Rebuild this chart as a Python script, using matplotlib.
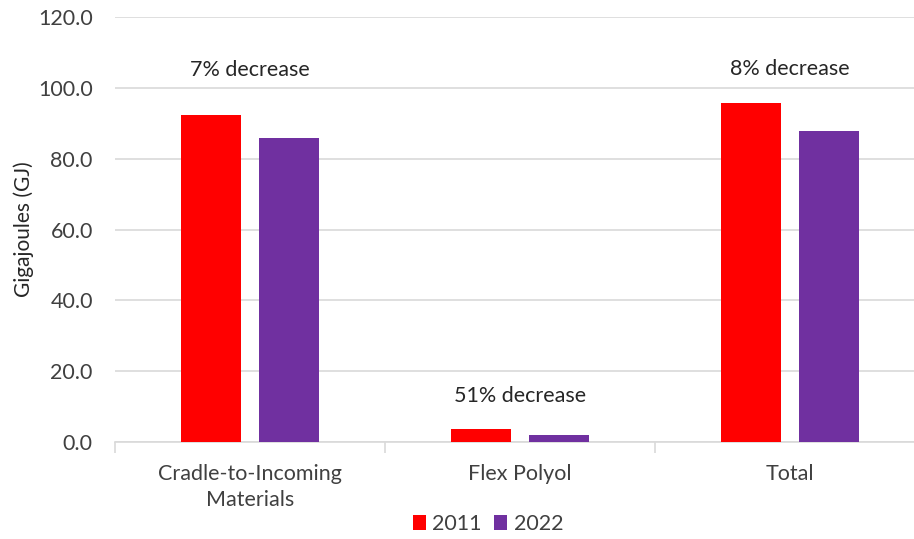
import matplotlib.pyplot as plt
import numpy as np

categories = ["Cradle-to-Incoming\nMaterials", "Flex Polyol", "Total"]
values_2011 = [92.4, 3.7, 95.6]
values_2022 = [85.8, 1.9, 87.7]
notes = ["7% decrease", "51% decrease", "8% decrease"]
note_y = [105.0, 13.0, 105.3]
yticks = [0, 20, 40, 60, 80, 100, 120]

plt.rcParams["font.family"] = ["Lato", "DejaVu Sans"]
fs = 15.5

fig = plt.figure(figsize=(9.14, 5.39), dpi=100)
ax = fig.add_axes([115 / 914, 1 - 442 / 539, 810 / 914, 425 / 539])

x = np.arange(len(categories))
w = 60 / 270
off = 39 / 270
ax.bar(x - off, values_2011, w, color="#ff0000", label="2011", zorder=3)
ax.bar(x + off, values_2022, w, color="#7030a0", label="2022", zorder=3)

for xi, txt, yy in zip(x, notes, note_y):
    ax.text(xi, yy, txt, ha="center", va="center", fontsize=fs, color="#262626")

ax.set_xlim(-0.5, len(categories) - 0.5)
ax.set_ylim(0, 120)
ax.set_yticks(yticks)
ax.set_yticklabels([f"{v:.1f}" for v in yticks])
ax.yaxis.grid(True, color="#d9d9d9", linewidth=1.2, zorder=0)
ax.set_axisbelow(True)

ax.set_xticks(x)
ax.set_xticklabels(categories, linespacing=1.35)
ax.set_xticks(np.arange(len(categories) + 1) - 0.5, minor=True)
ax.tick_params(axis="x", which="major", length=0, pad=16, labelsize=fs, labelcolor="#404040")
ax.tick_params(axis="x", which="minor", length=8, color="#d9d9d9", width=1.2)
ax.tick_params(axis="y", length=0, pad=16, labelsize=fs, labelcolor="#404040")

for s in ["top", "right", "left"]:
    ax.spines[s].set_visible(False)
ax.spines["bottom"].set_color("#d9d9d9")
ax.spines["bottom"].set_linewidth(1.2)

ax.set_ylabel("Gigajoules (GJ)", fontsize=15, color="#262626")
ax.yaxis.set_label_coords(-81 / 810, 0.5)

ax.legend(loc="center", bbox_to_anchor=(488 / 914, 1 - 524 / 539),
          bbox_transform=fig.transFigure, ncol=2, frameon=False,
          fontsize=fs, handlelength=0.6, handleheight=0.7,
          handletextpad=0.3, columnspacing=0.6, labelcolor="#404040",
          borderpad=0)

fig.savefig("out.png", dpi=100)
